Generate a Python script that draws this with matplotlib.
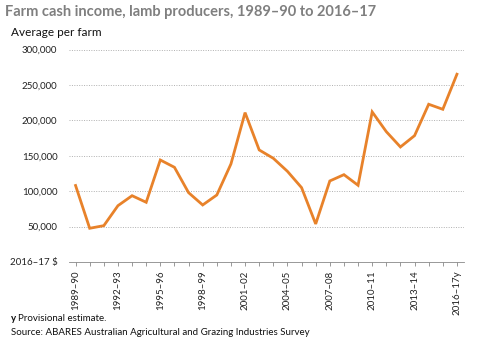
import matplotlib
matplotlib.use("Agg")
import matplotlib.pyplot as plt
from matplotlib.ticker import FuncFormatter

# Farm cash income per farm, lamb producers (2016-17 dollars)
years = [
    "1989–90", "1990–91", "1991–92", "1992–93", "1993–94", "1994–95",
    "1995–96", "1996–97", "1997–98", "1998–99", "1999–00", "2000–01",
    "2001–02", "2002–03", "2003–04", "2004–05", "2005–06", "2006–07",
    "2007–08", "2008–09", "2009–10", "2010–11", "2011–12", "2012–13",
    "2013–14", "2014–15", "2015–16", "2016–17y",
]
income = [
    108000, 47600, 51300, 79500, 93600, 84300,
    144000, 133700, 97900, 80500, 94600, 138400,
    210900, 158200, 146400, 128000, 105000, 53700,
    114400, 123300, 108300, 211900, 184000, 162400,
    178400, 222700, 215600, 265100,
]
y_ticks = [0, 50000, 100000, 150000, 200000, 250000, 300000]

plt.rcParams["font.family"] = ["Lato", "DejaVu Sans"]

fig = plt.figure(figsize=(5.0, 3.45), dpi=100)
ax = fig.add_axes([0.137, 0.2406, 0.791, 0.6159])

x = list(range(len(years)))
ax.plot(x, income, color="#E8822A", linewidth=2.0, solid_joinstyle="miter")

ax.set_xlim(-0.5, len(years) - 0.5)
ax.set_ylim(0, 300000)

ax.set_yticks(y_ticks)
ax.yaxis.set_major_formatter(
    FuncFormatter(lambda v, _: "2016–17 $" if v == 0 else f"{v:,.0f}")
)
ax.yaxis.grid(True, color="#b0b0b0", linestyle=(0, (1, 1.5)), linewidth=0.7)
ax.tick_params(axis="y", length=0, labelsize=7, pad=8, colors="#222222")

ax.set_xticks(x)
ax.set_xticklabels([lab if i % 3 == 0 else "" for i, lab in enumerate(years)],
                   rotation=90, fontsize=7, color="#222222")
ax.tick_params(axis="x", length=3, width=0.6, color="#888888", pad=3)

for side in ("top", "right", "left"):
    ax.spines[side].set_visible(False)
ax.spines["bottom"].set_color("#888888")
ax.spines["bottom"].set_linewidth(0.6)

fig.text(0.01, 0.965, "Farm cash income, lamb producers, 1989–90 to 2016–17",
         fontsize=10.5, fontweight="bold", color="#7f7f7f", va="center")
fig.text(0.022, 0.905, "Average per farm", fontsize=8.5, color="#111111", va="center")

fig.text(0.022, 0.077, "y", fontsize=7, fontweight="bold", color="#111111", va="center")
fig.text(0.036, 0.077, "Provisional estimate.", fontsize=7, color="#111111", va="center")
fig.text(0.022, 0.035, "Source: ABARES Australian Agricultural and Grazing Industries Survey",
         fontsize=7, color="#111111", va="center")

fig.savefig("out.png", dpi=100)
